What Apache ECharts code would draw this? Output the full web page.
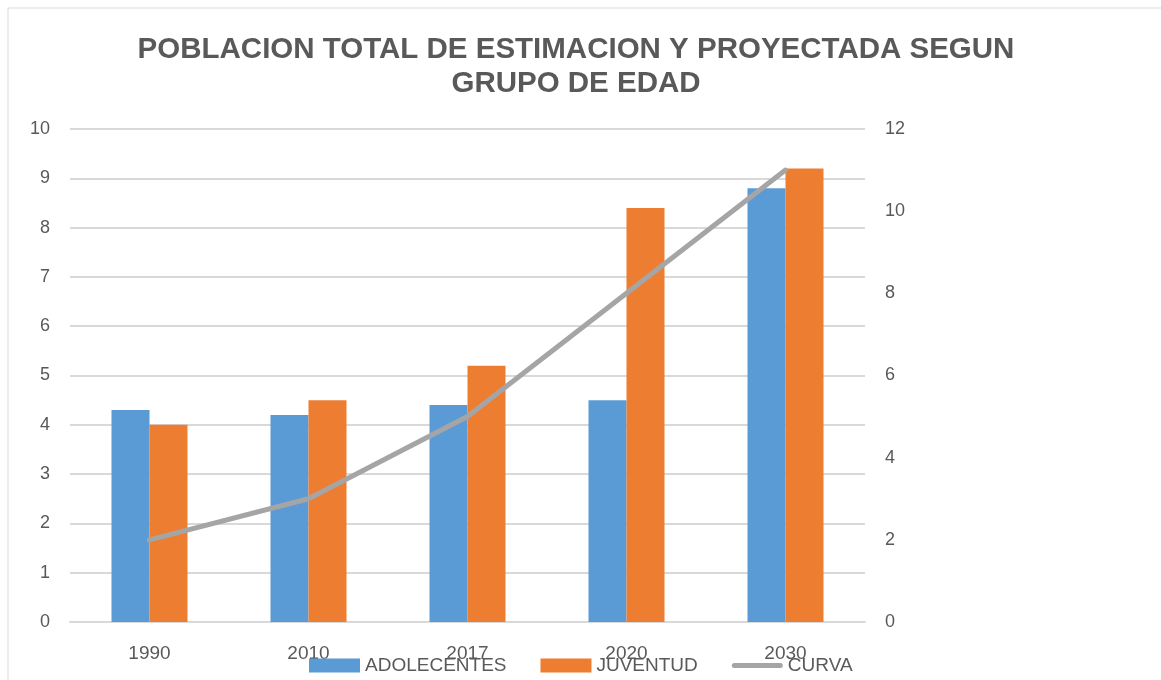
<!DOCTYPE html>
<html><head><meta charset="utf-8">
<script src="https://cdn.jsdelivr.net/npm/echarts@6/dist/echarts.min.js"></script>
<style>html,body{margin:0;padding:0;background:#fff}#c{width:1161px;height:680px}</style>
</head><body><div id="c"></div>
<script>
var categories = ['1990', '2010', '2017', '2020', '2030'];
var adolecentes = [4.3, 4.2, 4.4, 4.5, 8.8];
var juventud = [4.0, 4.5, 5.2, 8.4, 9.2];
var curva = [2, 3, 5, 8, 11];
var leftTicks = {min: 0, max: 10, interval: 1};
var rightTicks = {min: 0, max: 12, interval: 2};

var FONT = '"Liberation Sans", Arial, sans-serif';
var chart = echarts.init(document.getElementById('c'));
chart.setOption({
  animation: false,
  backgroundColor: '#fff',
  graphic: [{type: 'rect', shape: {x: 8, y: 8, width: 1160, height: 680}, style: {fill: 'none', stroke: '#d9d9d9', lineWidth: 1}}],
  title: {
    text: 'POBLACION TOTAL DE ESTIMACION Y PROYECTADA SEGUN\nGRUPO DE EDAD',
    left: 571, textAlign: 'center', top: 28,
    textStyle: {fontFamily: FONT, fontWeight: 'bold', fontSize: 29.5, color: '#595959', lineHeight: 34}
  },
  legend: {
    left: 304, top: 651, itemWidth: 51, itemHeight: 14, itemGap: 34,
    textStyle: {fontFamily: FONT, fontSize: 19, color: '#595959'},
    data: [
      {name: 'ADOLECENTES', icon: 'rect'},
      {name: 'JUVENTUD', icon: 'rect'},
      {name: 'CURVA', icon: 'path://M2.5,0 L48.5,0 A2.5,2.5 0 0 1 48.5,5 L2.5,5 A2.5,2.5 0 0 1 2.5,0 Z'}
    ]
  },
  grid: {left: 70, right: 296, top: 129, bottom: 58, containLabel: false},
  xAxis: {
    type: 'category', data: categories,
    axisLine: {lineStyle: {color: '#d9d9d9', width: 2}},
    axisTick: {show: false},
    axisLabel: {fontFamily: FONT, fontSize: 19, color: '#595959', margin: 22}
  },
  yAxis: [{
    type: 'value', min: leftTicks.min, max: leftTicks.max, interval: leftTicks.interval,
    axisLine: {show: false}, axisTick: {show: false},
    splitLine: {lineStyle: {color: '#d9d9d9', width: 2}},
    axisLabel: {fontFamily: FONT, fontSize: 18, color: '#595959', margin: 20}
  }, {
    type: 'value', min: rightTicks.min, max: rightTicks.max, interval: rightTicks.interval,
    axisLine: {show: false}, axisTick: {show: false}, splitLine: {show: false},
    axisLabel: {fontFamily: FONT, fontSize: 18, color: '#595959', margin: 20}
  }],
  series: [{
    name: 'ADOLECENTES', type: 'bar', data: adolecentes, barWidth: 38, barGap: '0%',
    itemStyle: {color: '#5b9bd5'}
  }, {
    name: 'JUVENTUD', type: 'bar', data: juventud, barWidth: 38, barGap: '0%',
    itemStyle: {color: '#ed7d31'}
  }, {
    name: 'CURVA', type: 'line', yAxisIndex: 1, data: curva, showSymbol: false, symbol: 'none',
    lineStyle: {color: '#a5a5a5', width: 5, cap: 'round', join: 'round'},
    itemStyle: {color: '#a5a5a5'}
  }]
});
</script></body></html>
